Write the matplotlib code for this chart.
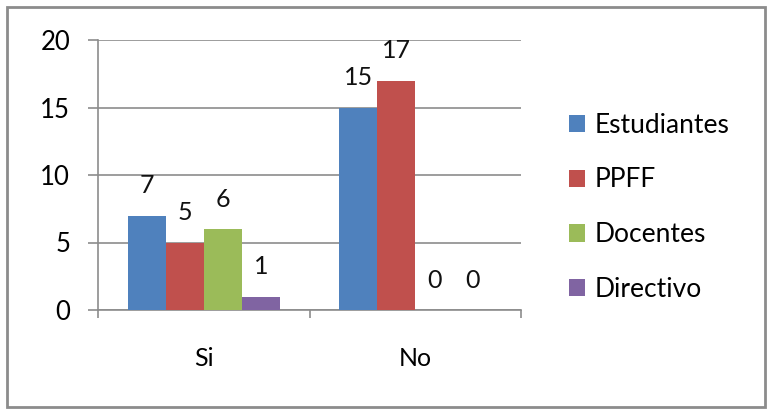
import matplotlib
matplotlib.use("Agg")
import matplotlib.pyplot as plt
import numpy as np
from matplotlib.patches import Rectangle

# Data
categories = ["Si", "No"]
series_names = ["Estudiantes", "PPFF", "Docentes", "Directivo"]
estudiantes = [7, 15]
ppff = [5, 17]
docentes = [6, 0]
directivo = [1, 0]
colors = ["#4F81BD", "#C0504D", "#9BBB59", "#8064A2"]

plt.rcParams["font.family"] = ["Lato", "DejaVu Sans"]

W, H = 776, 417
fig = plt.figure(figsize=(W / 100, H / 100), dpi=100)
fig.patch.set_facecolor("white")

# outer chart border
fig.patches.append(Rectangle((7 / W, 10 / H), 758 / W, 400 / H, transform=fig.transFigure,
                             fill=False, edgecolor="#8c8c8c", linewidth=2))

ax = fig.add_axes([98 / W, (H - 310) / H, (521 - 98) / W, (310 - 40) / H])

x = np.arange(len(categories))
width = 0.18
all_series = [estudiantes, ppff, docentes, directivo]
for i, (name, vals, c) in enumerate(zip(series_names, all_series, colors)):
    pos = x + (i - 1.5) * width
    ax.bar(pos, vals, width, color=c, label=name, zorder=3)
    for p, v in zip(pos, vals):
        ax.text(p, v + 2.2, str(v), ha="center", va="center", fontsize=18, color="#111111")

ax.set_xlim(-0.5, 1.5)
ax.set_ylim(0, 20)
ax.set_yticks([0, 5, 10, 15, 20])
ax.yaxis.grid(True, color="#8c8c8c", linewidth=1.2, zorder=0)
ax.set_axisbelow(True)

for s in ["top", "right"]:
    ax.spines[s].set_visible(False)
ax.spines["left"].set_color("#8c8c8c")
ax.spines["bottom"].set_color("#8c8c8c")
ax.spines["left"].set_linewidth(1.2)
ax.spines["bottom"].set_linewidth(1.2)

ax.tick_params(axis="y", length=7, color="#8c8c8c", width=1.2, labelsize=18.5, pad=13)
ax.set_xticks([-0.5, 0.5, 1.5])
ax.set_xticklabels([])
ax.set_xticks(x, minor=True)
ax.set_xticklabels(categories, minor=True)
ax.tick_params(axis="x", which="major", length=6, color="#8c8c8c", width=1.2)
ax.tick_params(axis="x", which="minor", length=0, labelsize=18, pad=27)

ax.legend(loc="center left", bbox_to_anchor=(1.113, 0.38), frameon=False,
          borderpad=0, borderaxespad=0,
          fontsize=19, handlelength=0.62, handleheight=0.62, handletextpad=0.35,
          labelspacing=1.13)

fig.savefig("out.png", dpi=100)
